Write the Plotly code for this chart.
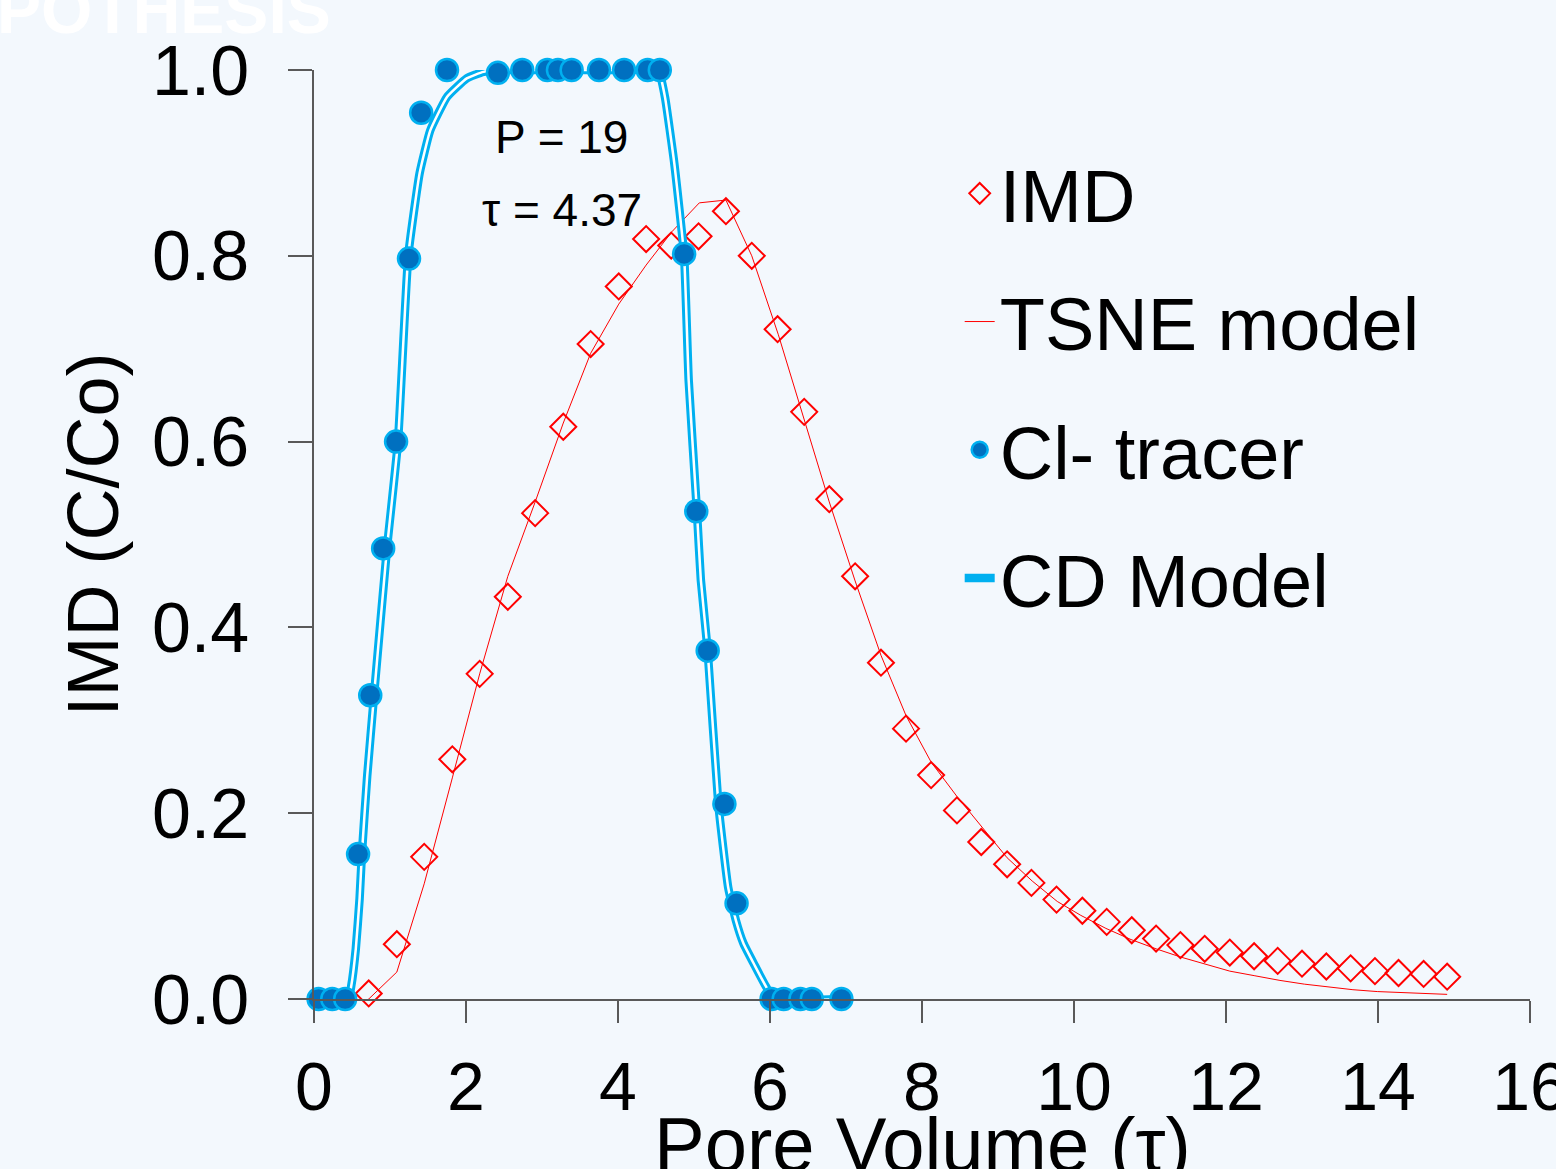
import plotly.graph_objects as go

# ---------------- data ----------------
imd_x = [0.72, 1.09, 1.45, 1.82, 2.18, 2.55, 2.91, 3.28, 3.64, 4.01, 4.37, 4.70, 5.06,
         5.42, 5.76, 6.10, 6.45, 6.78, 7.12, 7.46, 7.79, 8.12, 8.46, 8.78, 9.12, 9.44,
         9.77, 10.11, 10.43, 10.76, 11.08, 11.40, 11.72, 12.05, 12.37, 12.68, 13.00,
         13.32, 13.64, 13.96, 14.27, 14.60, 14.91]
imd_y = [0.006, 0.059, 0.153, 0.258, 0.350, 0.433, 0.523, 0.616, 0.705, 0.767, 0.818, 0.811, 0.821,
         0.848, 0.800, 0.721, 0.632, 0.538, 0.455, 0.362, 0.291, 0.241, 0.203, 0.169, 0.145, 0.125,
         0.107, 0.095, 0.083, 0.074, 0.065, 0.058, 0.054, 0.050, 0.046, 0.041, 0.038,
         0.035, 0.033, 0.030, 0.028, 0.027, 0.024]

tsne_x = [0.36, 0.72, 1.09, 1.45, 1.82, 2.18, 2.55, 2.91, 3.28, 3.64, 4.01, 4.37, 4.71, 5.07,
          5.42, 5.76, 6.11, 6.45, 6.78, 7.12, 7.46, 7.79, 8.12, 8.46, 8.79, 9.12, 9.45, 9.78,
          10.09, 10.42, 10.75, 11.08, 11.41, 11.74, 12.05, 12.38, 12.71, 13.03, 13.36, 13.67,
          13.99, 14.30, 14.61, 14.91]
tsne_y = [-0.012, 0.000, 0.029, 0.124, 0.238, 0.350, 0.455, 0.535, 0.620, 0.695, 0.748, 0.790, 0.826, 0.857,
          0.860, 0.800, 0.715, 0.625, 0.535, 0.450, 0.370, 0.305, 0.255, 0.218, 0.185, 0.152, 0.127, 0.105,
          0.090, 0.076, 0.064, 0.054, 0.045, 0.037, 0.030, 0.025, 0.020, 0.016, 0.013, 0.010,
          0.008, 0.007, 0.006, 0.005]

cl_x = [-0.01, 0.06, 0.24, 0.41, 0.58, 0.74, 0.91, 1.08, 1.25, 1.41, 1.75, 2.42, 2.74, 3.07,
        3.21, 3.39, 3.75, 4.08, 4.39, 4.55, 4.87, 5.03, 5.18, 5.40, 5.56, 6.02, 6.18, 6.40,
        6.55, 6.94]
cl_y = [0.0, 0.0, 0.0, 0.0, 0.156, 0.327, 0.485, 0.600, 0.797, 0.954, 1.0, 0.997, 1.0, 1.0,
        1.0, 1.0, 1.0, 1.0, 1.0, 1.0, 0.802, 0.525, 0.375, 0.210, 0.103, 0.0, 0.0, 0.0,
        0.0, 0.0]

cd_x = [0.0, 0.45, 0.49, 0.55, 0.60, 0.63, 0.70, 0.79, 0.96, 1.105, 1.24, 1.39, 1.53, 1.75,
        2.01, 2.23, 2.50, 3.00, 3.50, 4.00, 4.50, 4.55, 4.62, 4.74, 4.87, 4.93, 5.04, 5.09,
        5.18, 5.32, 5.45, 5.55, 5.65, 5.80, 5.95, 6.05, 7.00]
cd_y = [0.0, 0.0, 0.014, 0.054, 0.108, 0.156, 0.240, 0.327, 0.485, 0.600, 0.800, 0.889, 0.935, 0.971,
        0.991, 0.998, 1.0, 1.0, 1.0, 1.0, 1.0, 0.995, 0.970, 0.900, 0.800, 0.666, 0.523, 0.451,
        0.375, 0.210, 0.120, 0.085, 0.060, 0.036, 0.013, 0.0, 0.0]

x_ticks = [0, 2, 4, 6, 8, 10, 12, 14, 16]
y_ticks = [0.0, 0.2, 0.4, 0.6, 0.8, 1.0]

FONT = "Arial, Liberation Sans, sans-serif"
RED = "#FF0000"
CYAN = "#00B0F0"
BLUE = "#0070C0"
AX = "#595959"
BG = "#f3f8fd"

fig = go.Figure()

fig.add_trace(go.Scatter(
    x=imd_x, y=imd_y, mode="markers", name="IMD", legendrank=1, legendgroup="a",
    marker=dict(symbol="diamond-open", size=20, color=RED, line=dict(width=2, color=RED)),
    cliponaxis=False))

fig.add_trace(go.Scatter(
    x=tsne_x, y=tsne_y, mode="lines", name="TSNE model", legendrank=2, legendgroup="b",
    line=dict(color=RED, width=1), cliponaxis=False))

fig.add_trace(go.Scatter(
    x=cd_x, y=cd_y, mode="lines", name="CD Model", legendrank=4, legendgroup="d",
    line=dict(color=CYAN, width=8.5, shape="spline", smoothing=0.4), cliponaxis=False))
fig.add_trace(go.Scatter(
    x=cd_x, y=cd_y, mode="lines", showlegend=False, legendgroup="d",
    line=dict(color="white", width=2.5, shape="spline", smoothing=0.4), cliponaxis=False))

fig.add_trace(go.Scatter(
    x=cl_x, y=cl_y, mode="markers", name="Cl- tracer", legendrank=3, legendgroup="c",
    marker=dict(symbol="circle", size=22, color=BLUE, line=dict(width=2.5, color=CYAN)),
    cliponaxis=False))

fig.add_annotation(x=3.26, y=0.928, xref="x", yref="y", text="P = 19", showarrow=False,
                   font=dict(family=FONT, size=46, color="black"))
fig.add_annotation(x=3.26, y=0.849, xref="x", yref="y", text="τ = 4.37", showarrow=False,
                   font=dict(family=FONT, size=46, color="black"))

# x-axis title placed as text below the tick labels
fig.add_annotation(x=0.5, y=-0.109, xref="paper", yref="paper", text="Pore Volume (τ)",
                   showarrow=False, xanchor="center", yanchor="top",
                   font=dict(family=FONT, size=76, color="black"))

# faint white heading cut off at the top of the slide
fig.add_annotation(x=-0.262, y=1.023, xref="paper", yref="paper", text="<b>POTHESIS</b>",
                   showarrow=False, xanchor="left", yanchor="bottom",
                   font=dict(family=FONT, size=66, color="white"))

fig.update_layout(
    width=1556, height=1169,
    margin=dict(l=314, r=26, t=70, b=170),
    paper_bgcolor=BG,
    plot_bgcolor="rgba(0,0,0,0)",
    font=dict(family=FONT, color="black"),
    showlegend=True,
    legend=dict(x=0.531, y=0.926, xanchor="left", yanchor="top",
                bgcolor="rgba(0,0,0,0)", font=dict(family=FONT, size=74, color="black"),
                tracegroupgap=29, itemwidth=30),
    xaxis=dict(range=[0, 16], tickvals=x_ticks, ticktext=[str(v) for v in x_ticks],
               automargin=False, ticklabeloverflow="allow", ticklabelstandoff=6,
               showgrid=False, zeroline=False, showline=True, linecolor=AX, linewidth=1.5,
               ticks="outside", ticklen=22, tickcolor=AX, tickwidth=1.5,
               tickfont=dict(family=FONT, size=68, color="black")),
    yaxis=dict(range=[0, 1], tickvals=y_ticks, ticktext=["%.1f" % v for v in y_ticks],
               automargin=False, ticklabelstandoff=25,
               showgrid=False, zeroline=False, showline=True, linecolor=AX, linewidth=1.5,
               ticks="outside", ticklen=24, tickcolor=AX, tickwidth=1.5,
               tickfont=dict(family=FONT, size=70, color="black"),
               title=dict(text="IMD (C/Co)", font=dict(family=FONT, size=72, color="black"),
                          standoff=10)),
)

fig.write_html("out.html", config={"displayModeBar": False},
               post_script="document.body.style.margin='0';document.body.style.background='%s';" % BG)
